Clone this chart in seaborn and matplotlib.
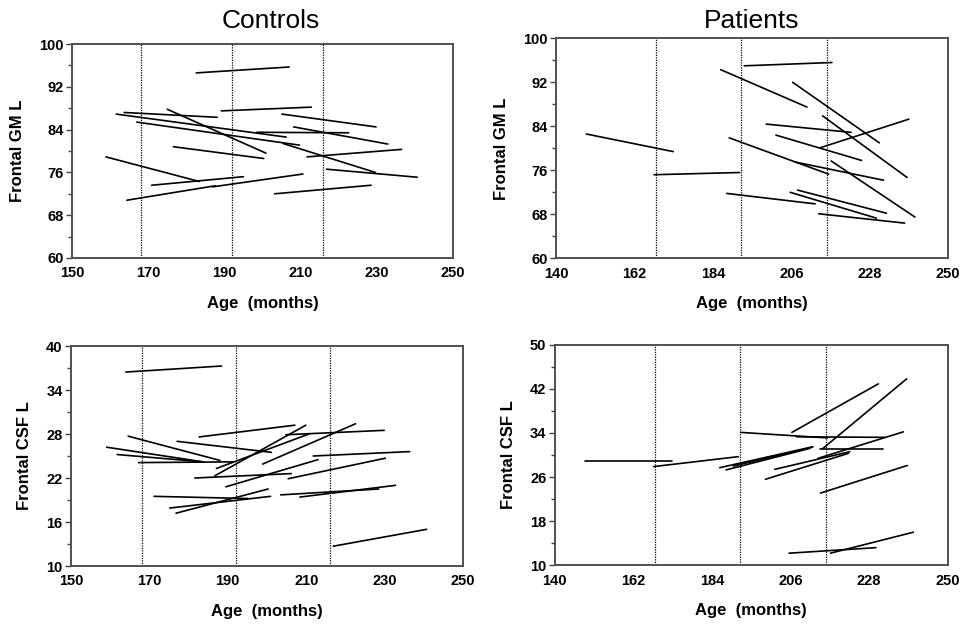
import numpy as np
import pandas as pd
import matplotlib
matplotlib.use('Agg')
import matplotlib.pyplot as plt
import seaborn as sns

# Контроли: лобова сіра речовина (початок / кінець кожного відрізка)
ctrl_gm_age0 = [182.6, 189.2, 163.7, 161.6, 175.0, 167.0, 205.1, 208.2, 198.5,
                205.4, 216.8, 211.7, 176.6, 158.9, 170.9, 164.4, 186.9, 203.2]
ctrl_gm_age1 = [207.0, 212.8, 188.1, 206.2, 200.9, 209.7, 229.8, 232.9, 222.6,
                229.6, 240.6, 236.5, 200.3, 183.4, 195.0, 187.6, 210.6, 228.5]
ctrl_gm_val0 = [94.6, 87.5, 87.2, 86.9, 87.8, 85.4, 86.9, 84.5, 83.5,
                81.4, 76.6, 78.9, 80.8, 78.9, 73.6, 70.8, 73.3, 72.0]
ctrl_gm_val1 = [95.7, 88.2, 86.3, 82.6, 79.6, 81.1, 84.5, 81.3, 83.4,
                76.0, 75.1, 80.3, 78.6, 74.3, 75.2, 73.5, 75.7, 73.6]

# Пацієнти: лобова сіра речовина
pat_gm_age0 = [148.5, 167.5, 192.8, 186.2, 206.4, 214.8, 199.0, 201.7,
               214.1, 188.6, 207.1, 217.2, 187.9, 205.7, 207.8, 213.7]
pat_gm_age1 = [172.9, 191.5, 217.4, 210.4, 230.7, 238.5, 222.8, 225.7,
               239.0, 216.5, 231.9, 240.7, 212.7, 229.9, 232.7, 237.8]
pat_gm_val0 = [82.6, 75.2, 95.0, 94.3, 92.0, 85.9, 84.4, 82.4,
               80.1, 81.9, 77.5, 77.7, 71.8, 72.0, 72.4, 68.1]
pat_gm_val1 = [79.4, 75.6, 95.6, 87.5, 81.0, 74.7, 82.9, 77.8,
               85.3, 75.3, 74.2, 67.5, 69.9, 67.3, 68.2, 66.4]

# Контроли: лобова спинномозкова рідина
ctrl_csf_age0 = [164.0, 182.7, 164.6, 159.1, 161.8, 167.2, 177.1, 187.1, 186.7, 198.9, 204.8,
                 211.8, 205.4, 189.5, 181.6, 171.2, 175.2, 176.8, 203.5, 208.4, 216.9]
ctrl_csf_age1 = [188.4, 207.1, 188.0, 183.7, 183.7, 191.4, 201.1, 210.7, 209.9, 222.6, 229.9,
                 236.4, 230.2, 213.0, 206.2, 195.2, 200.9, 200.3, 228.5, 232.8, 240.7]
ctrl_csf_val0 = [36.45, 27.6, 27.7, 26.2, 25.2, 24.1, 27.0, 23.3, 22.3, 23.9, 27.9,
                 25.0, 21.9, 20.8, 22.0, 19.5, 17.9, 17.2, 19.7, 19.4, 12.7]
ctrl_csf_val1 = [37.27, 29.2, 24.4, 24.2, 24.2, 24.2, 25.5, 28.0, 29.2, 29.4, 28.5,
                 25.6, 24.7, 24.5, 22.6, 19.2, 19.5, 20.5, 20.5, 21.0, 15.0]

# Пацієнти: лобова спинномозкова рідина
pat_csf_age0 = [148.6, 167.7, 192.0, 207.7, 206.4, 215.1, 214.2, 186.2,
                188.0, 190.0, 201.6, 199.0, 213.7, 214.4, 205.6, 217.2]
pat_csf_age1 = [172.9, 191.4, 216.3, 232.4, 230.6, 238.5, 231.8, 212.3,
                211.4, 212.0, 222.6, 222.2, 237.6, 238.7, 229.9, 240.4]
pat_csf_val0 = [28.9, 27.9, 34.1, 33.3, 34.1, 31.2, 31.0, 27.7,
                27.3, 28.0, 27.4, 25.6, 29.4, 23.1, 12.2, 12.2]
pat_csf_val1 = [28.9, 29.7, 33.1, 33.2, 42.9, 43.8, 31.0, 31.5,
                31.2, 31.4, 30.6, 30.3, 34.2, 28.1, 13.2, 16.0]

age_cuts = [168, 192, 216]

ctrl_xticks = [150, 170, 190, 210, 230, 250]
pat_xticks = [140, 162, 184, 206, 228, 250]
gm_yticks = [60, 68, 76, 84, 92, 100]
ctrl_csf_yticks = [10, 16, 22, 28, 34, 40]
pat_csf_yticks = [10, 18, 26, 34, 42, 50]


# Функція для перетворення відрізків у довгу таблицю
def to_long(age0, age1, val0, val1):
    rows = []
    for i, (a0, a1, v0, v1) in enumerate(zip(age0, age1, val0, val1)):
        rows.append({'subj': i, 'age': a0, 'val': v0})
        rows.append({'subj': i, 'age': a1, 'val': v1})
    return pd.DataFrame(rows)


sns.set_style('white')
plt.rcParams['font.family'] = ['Liberation Sans', 'DejaVu Sans']
plt.rcParams['text.color'] = 'black'
plt.rcParams['axes.labelcolor'] = 'black'
plt.rcParams['xtick.color'] = 'black'
plt.rcParams['ytick.color'] = 'black'

fig = plt.figure(figsize=(9.63, 6.25), dpi=100)

panels = [
    # позиція, дані, тіки x, тіки y, підпис y
    ([0.0748, 0.5872, 0.3956, 0.3424], (ctrl_gm_age0, ctrl_gm_age1, ctrl_gm_val0, ctrl_gm_val1),
     ctrl_xticks, gm_yticks, 'Frontal GM L'),
    ([0.5774, 0.5867, 0.4071, 0.3520], (pat_gm_age0, pat_gm_age1, pat_gm_val0, pat_gm_val1),
     pat_xticks, gm_yticks, 'Frontal GM L'),
    ([0.0737, 0.0944, 0.4071, 0.3520], (ctrl_csf_age0, ctrl_csf_age1, ctrl_csf_val0, ctrl_csf_val1),
     ctrl_xticks, ctrl_csf_yticks, 'Frontal CSF L'),
    ([0.5760, 0.0955, 0.4081, 0.3530], (pat_csf_age0, pat_csf_age1, pat_csf_val0, pat_csf_val1),
     pat_xticks, pat_csf_yticks, 'Frontal CSF L'),
]

for pos, data, xticks, yticks, ylab in panels:
    ax = fig.add_axes(pos)
    df = to_long(*data)
    sns.lineplot(data=df, x='age', y='val', units='subj', estimator=None, sort=False,
                 color='black', linewidth=1.2, ax=ax)
    for c in age_cuts:
        ax.axvline(c, color='black', linestyle=(0, (1, 1)), linewidth=0.9)
    ax.set_xlim(xticks[0], xticks[-1])
    ax.set_ylim(yticks[0], yticks[-1])
    ax.set_xticks(xticks)
    ax.set_yticks(yticks)
    step = yticks[1] - yticks[0]
    ax.set_yticks(np.array(yticks[:-1]) + step / 2, minor=True)
    ax.tick_params(axis='x', length=0, pad=6, labelsize=10.5, labelcolor='black')
    ax.tick_params(axis='y', which='major', left=True, length=4, width=1, color='#404040',
                   pad=2, labelsize=10.5, labelcolor='black')
    ax.tick_params(axis='y', which='minor', left=True, length=3, width=1, color='#404040')
    for lab in ax.get_xticklabels() + ax.get_yticklabels():
        lab.set_fontweight('bold')
    for sp in ax.spines.values():
        sp.set_color('#505050')
        sp.set_linewidth(1.4)
    ax.set_xlabel('Age  (months)', fontsize=12, fontweight='bold', labelpad=11)
    ax.set_ylabel(ylab, fontsize=12, fontweight='bold', labelpad=10)

fig.text(0.281, 0.966, 'Controls', ha='center', va='center', fontsize=19)
fig.text(0.781, 0.966, 'Patients', ha='center', va='center', fontsize=19)

fig.savefig('out.png', dpi=100)
